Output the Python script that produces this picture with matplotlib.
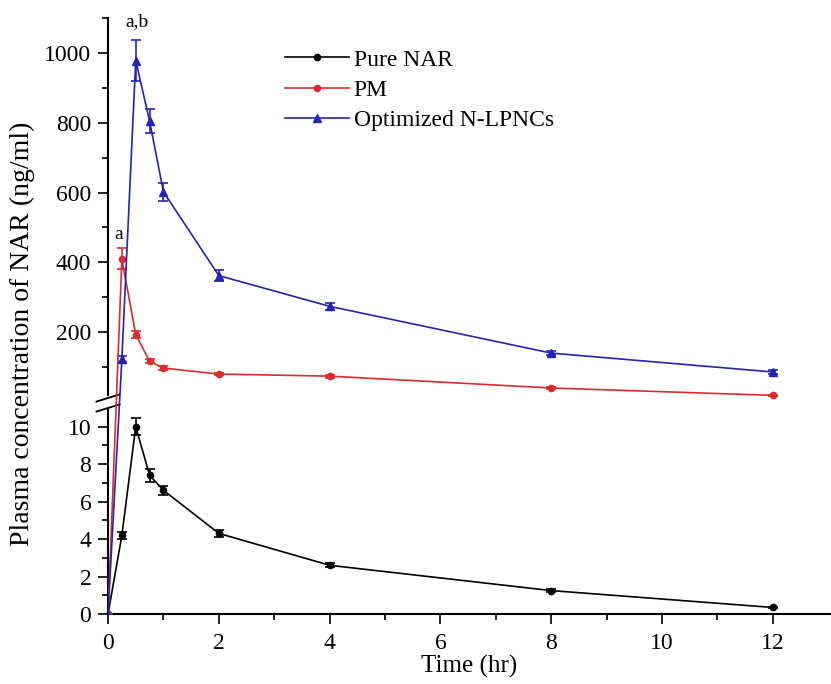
import numpy as np
import matplotlib
matplotlib.use('Agg')
import matplotlib.pyplot as plt

plt.rcParams['font.family'] = ['Liberation Serif', 'DejaVu Serif']

# data
time = [0, 0.25, 0.5, 0.75, 1, 2, 4, 8, 12]
pure_nar = [0, 4.2, 10.0, 7.4, 6.6, 4.3, 2.6, 1.25, 0.35]
pure_nar_err = [0, 0.2, 0.45, 0.35, 0.25, 0.2, 0.1, 0.08, 0.05]
pm = [0, 410, 193, 117, 97, 80, 74, 40, 19]
pm_err = [0, 30, 10, 6, 5, 4, 4, 3, 2]
nlpnc = [0, 123, 978, 805, 602, 362, 274, 140, 86]
nlpnc_err = [0, 8, 58, 35, 25, 15, 10, 6, 5]

series_names = ['Pure NAR', 'PM', 'Optimized N-LPNCs']

# broken y axis: 0-11 low part, 12-1100 high part
LOW_TOP = 11.0
HIGH_BOT = 12.0
LOW_SCALE = 18.73
GAP = 10.0
HIGH_SCALE = 0.34875


def forward(y):
    y = np.asarray(y, dtype=float)
    low = y * LOW_SCALE
    mid = LOW_TOP * LOW_SCALE + (y - LOW_TOP) * GAP
    high = LOW_TOP * LOW_SCALE + GAP + (y - HIGH_BOT) * HIGH_SCALE
    return np.where(y <= LOW_TOP, low, np.where(y <= HIGH_BOT, mid, high))


def inverse(p):
    p = np.asarray(p, dtype=float)
    p1 = LOW_TOP * LOW_SCALE
    p2 = p1 + GAP
    low = p / LOW_SCALE
    mid = LOW_TOP + (p - p1) / GAP
    high = HIGH_BOT + (p - p2) / HIGH_SCALE
    return np.where(p <= p1, low, np.where(p <= p2, mid, high))


fig = plt.figure(figsize=(8.31, 6.84), dpi=100)
ax = fig.add_axes([0.13, 0.1023, 0.87, 0.8714])
ax.set_yscale('function', functions=(forward, inverse))

styles = [
    (pure_nar, pure_nar_err, 'black', 'o', 4.5),
    (pm, pm_err, '#dd2a2a', 'o', 4.5),
    (nlpnc, nlpnc_err, '#2424b4', '^', 5.5),
]
handles = []
for (vals, errs, col, mk, ms), name in zip(styles, series_names):
    cont = ax.errorbar(time, vals, yerr=errs, color=col, marker=mk, markersize=ms,
                       linewidth=1.2, elinewidth=1.2, capsize=3.5, capthick=1.2,
                       label=name, zorder=3)
    handles.append(cont[0])

ax.text(0.52, 1065, 'a,b', ha='center', va='bottom', fontsize=14)
ax.text(0.2, 455, 'a', ha='center', va='bottom', fontsize=14)

ax.set_xlim(0, 13.05)
ax.set_ylim(0, 1100)
ax.set_xticks([0, 2, 4, 6, 8, 10, 12])
ax.set_xticks([1, 3, 5, 7, 9, 11], minor=True)
ax.set_yticks([0, 2, 4, 6, 8, 10, 200, 400, 600, 800, 1000])
ax.set_yticks([1, 3, 5, 7, 9, 100, 300, 500, 700, 900, 1100], minor=True)
ax.tick_params(which='major', direction='out', length=7, width=1.2,
               labelsize=17, pad=5)
ax.tick_params(axis='x', which='major', pad=7)
ax.tick_params(which='minor', direction='out', length=4, width=1.2)

for side in ['top', 'right']:
    ax.spines[side].set_visible(False)
ax.spines['left'].set_linewidth(1.5)
ax.spines['bottom'].set_linewidth(1.5)

# break marks on the left spine, placed in axes fractions
ax_h = 0.8714 * 684
y_lo = forward(LOW_TOP) / ax_h
y_hi = forward(HIGH_BOT) / ax_h
ax.fill([-0.005, 0.005, 0.005, -0.005], [y_lo, y_lo + 0.004, y_hi + 0.004, y_hi],
        color='white', transform=ax.transAxes, clip_on=False, zorder=2.8)
for yb in [y_lo, y_hi]:
    ax.plot([-0.016, 0.016], [yb - 0.006, yb + 0.006], color='black', lw=1.3,
            transform=ax.transAxes, clip_on=False, zorder=2.9)

ax.set_xlabel('Time (hr)', fontsize=18, labelpad=0)
ax.set_ylabel('Plasma concentration of NAR (ng/ml)', fontsize=20)
ax.yaxis.set_label_coords(-0.101, 0.47)

ax.legend(handles, series_names, loc='upper left', bbox_to_anchor=(0.245, 0.948),
          frameon=False, fontsize=17, handlelength=2.7, numpoints=1,
          labelspacing=0.37, handletextpad=0.2, borderpad=0, borderaxespad=0)

fig.savefig('out.png', dpi=100)
